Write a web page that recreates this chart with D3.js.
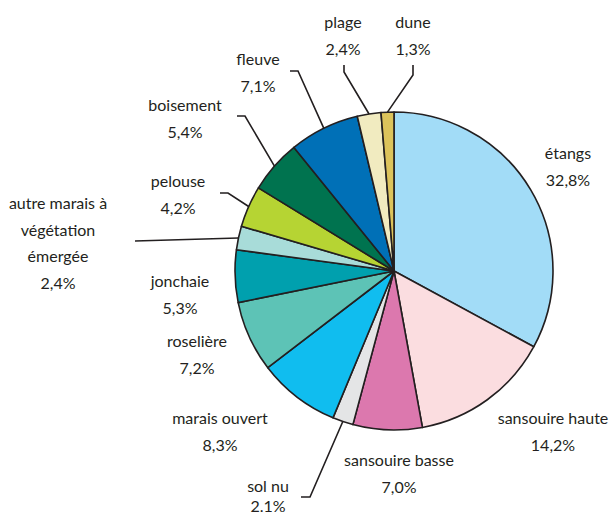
<!DOCTYPE html>
<html>
<head>
<meta charset="utf-8">
<script src="https://cdn.jsdelivr.net/npm/d3@7"></script>
<style>
  html, body { margin: 0; padding: 0; background: #fff; }
  svg text { font-family: Lato, "Open Sans", sans-serif; font-size: 16px; fill: #231f20; }
</style>
</head>
<body>
<svg id="chart" width="609" height="517"></svg>
<script>
// Land-cover categories, clockwise from 12 o'clock
const categories = ["étangs", "sansouire haute", "sansouire basse", "sol nu", "marais ouvert",
  "roselière", "jonchaie", "autre marais à végétation émergée", "pelouse", "boisement",
  "fleuve", "plage", "dune"];
const values = [32.8, 14.2, 7.0, 2.1, 8.3, 7.2, 5.3, 2.4, 4.2, 5.4, 7.1, 2.4, 1.3];
const valueLabels = ["32,8%", "14,2%", "7,0%", "2.1%", "8,3%", "7,2%", "5,3%", "2,4%",
  "4,2%", "5,4%", "7,1%", "2,4%", "1,3%"];
const colors = ["#a2dcf7", "#fbdde0", "#dc78ae", "#e4e5e6", "#10bdef", "#5dc3b6", "#00a0ae",
  "#a8dcd9", "#b6d433", "#00734f", "#0070b7", "#f1ebc0", "#dcc35b"];

// Label layout: text lines, centre x, first baseline y, line gap, optional leader points
const labelLayout = [
  { lines: ["étangs"], x: 568, y: 159 },
  { lines: ["sansouire haute"], x: 553, y: 424 },
  { lines: ["sansouire basse"], x: 399, y: 466 },
  { lines: ["sol nu"], x: 268, y: 492, gap: 20, leader: [[310, 497], [301, 497]] },
  { lines: ["marais ouvert"], x: 220, y: 424 },
  { lines: ["roselière"], x: 197, y: 347 },
  { lines: ["jonchaie"], x: 180, y: 287 },
  { lines: ["autre marais à", "végétation", "émergée"], x: 58, y: 209, leader: [[135, 241]] },
  { lines: ["pelouse"], x: 178, y: 187, leader: [[228, 193], [220, 193]] },
  { lines: ["boisement"], x: 185, y: 111, leader: [[245, 116], [237, 116]] },
  { lines: ["fleuve"], x: 258, y: 65, leader: [[298, 71], [290, 71]] },
  { lines: ["plage"], x: 343, y: 28, leader: [[344, 72], [344, 65]] },
  { lines: ["dune"], x: 413, y: 28, leader: [[413, 75], [413, 65]] }
];

const cx = 394, cy = 271, radius = 159, lineGap = 26.5;
const ink = "#231f20";

const data = categories.map((c, i) => ({ name: c, value: values[i], label: valueLabels[i],
  color: colors[i], layout: labelLayout[i] }));

const svg = d3.select("#chart");
const g = svg.append("g").attr("transform", `translate(${cx},${cy})`);

const pie = d3.pie().value(d => d.value).sort(null);
const arc = d3.arc().innerRadius(0).outerRadius(radius);
const arcs = pie(data);

g.selectAll("path.slice")
  .data(arcs)
  .join("path")
  .attr("class", "slice")
  .attr("d", arc)
  .attr("fill", d => d.data.color)
  .attr("stroke", ink)
  .attr("stroke-width", 1.6)
  .attr("stroke-linejoin", "round");

// Leader lines start on the rim at each slice's mid-angle
const line = d3.line();
arcs.filter(d => d.data.layout.leader).forEach(d => {
  const mid = (d.startAngle + d.endAngle) / 2;
  const start = [cx + radius * Math.sin(mid), cy - radius * Math.cos(mid)];
  svg.append("path")
    .attr("d", line([start, ...d.data.layout.leader]))
    .attr("fill", "none")
    .attr("stroke", ink)
    .attr("stroke-width", 1.6);
});

// Category names and percentages
data.forEach(d => {
  const L = d.layout;
  const gap = L.gap || lineGap;
  const t = svg.append("text").attr("text-anchor", "middle");
  [...L.lines, d.label].forEach((s, k) => {
    t.append("tspan").attr("x", L.x).attr("y", L.y + k * gap).text(s);
  });
});
</script>
</body>
</html>
